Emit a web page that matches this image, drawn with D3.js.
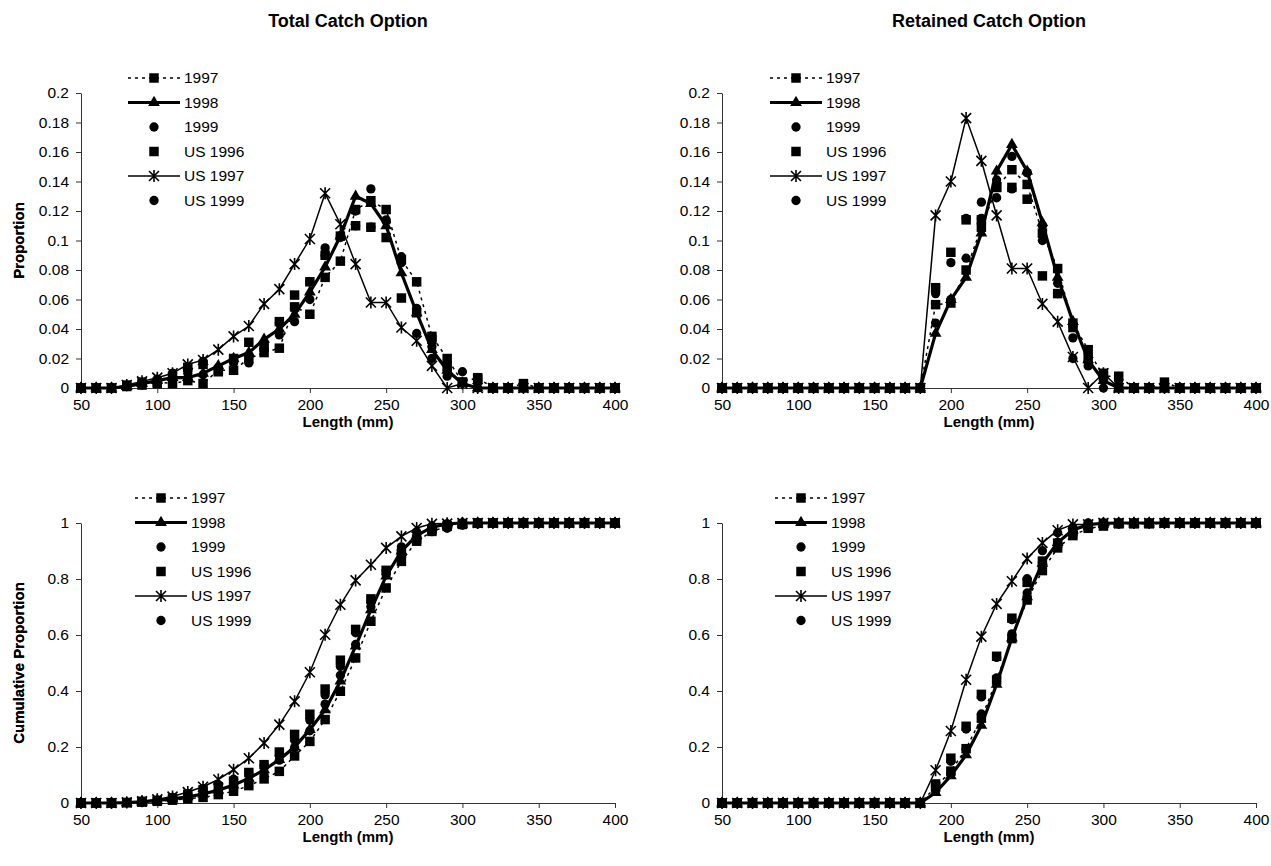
<!DOCTYPE html>
<html>
<head>
<meta charset="utf-8">
<script src="https://cdn.jsdelivr.net/npm/d3@7"></script>
<style>
  body { margin: 0; background: #fff; }
  svg { font-family: Arial, "Liberation Sans", sans-serif; }
</style>
</head>
<body>
<script>
// length classes (mm) and axis ticks
const lengths = [50,60,70,80,90,100,110,120,130,140,150,160,170,180,190,200,210,220,230,240,250,260,270,280,290,300,310,320,330,340,350,360,370,380,390,400];
const xTicks = [50,100,150,200,250,300,350,400];
const propTicks = [0,0.02,0.04,0.06,0.08,0.1,0.12,0.14,0.16,0.18,0.2];
const cumTicks = [0,0.2,0.4,0.6,0.8,1];
const seriesNames = ["1997","1998","1999","US 1996","US 1997","US 1999"];

// Total catch option - proportion at length
const tc1997   = [0,0,0,0.001,0.002,0.004,0.003,0.005,0.003,0.012,0.012,0.02,0.024,0.027,0.055,0.05,0.075,0.086,0.121,0.127,0.121,0.087,0.072,0.035,0.02,0.004,0.007,0,0,0.003,0,0,0,0,0,0];
const tc1998   = [0,0,0,0.001,0.003,0.005,0.007,0.007,0.01,0.015,0.02,0.024,0.033,0.04,0.05,0.065,0.082,0.103,0.13,0.125,0.11,0.078,0.051,0.026,0.012,0.003,0,0,0,0,0,0,0,0,0,0];
const tc1999   = [0,0,0,0.001,0.002,0.004,0.006,0.01,0.009,0.013,0.017,0.017,0.03,0.044,0.045,0.06,0.095,0.103,0.11,0.135,0.114,0.089,0.037,0.028,0.012,0.011,0.005,0,0,0,0,0,0,0,0,0];
const tcUS1996 = [0,0,0,0.002,0.004,0.003,0.008,0.014,0.016,0.011,0.02,0.031,0.028,0.045,0.063,0.072,0.09,0.103,0.11,0.109,0.102,0.061,0.051,0.033,0.015,0.004,0.006,0,0,0,0,0,0,0,0,0];
const tcUS1997 = [0,0,0,0.002,0.0045,0.007,0.01,0.016,0.019,0.026,0.035,0.042,0.057,0.067,0.084,0.101,0.132,0.111,0.084,0.058,0.058,0.041,0.032,0.015,0,0.003,0,0,0,0,0,0,0,0,0,0];
const tcUS1999 = [0,0,0,0.001,0.003,0.006,0.01,0.013,0.018,0.014,0.02,0.022,0.027,0.036,0.054,0.072,0.09,0.102,0.12,0.109,0.113,0.085,0.054,0.02,0.008,0.003,0,0,0,0,0,0,0,0,0,0];

// Total catch option - cumulative proportion
const tcCum1997   = [0,0,0,0.001,0.003,0.006,0.01,0.015,0.02,0.03,0.042,0.062,0.086,0.113,0.168,0.22,0.298,0.399,0.518,0.649,0.768,0.863,0.935,0.97,0.988,0.998,1,1,1,1,1,1,1,1,1,1];
const tcCum1998   = [0,0,0,0.001,0.004,0.009,0.015,0.022,0.032,0.046,0.064,0.088,0.118,0.155,0.2,0.262,0.333,0.435,0.56,0.69,0.81,0.9,0.955,0.985,0.997,1,1,1,1,1,1,1,1,1,1,1];
const tcCum1999   = [0,0,0,0.001,0.003,0.007,0.013,0.023,0.032,0.045,0.062,0.079,0.109,0.153,0.198,0.258,0.353,0.456,0.566,0.701,0.815,0.904,0.941,0.969,0.981,0.992,0.997,1,1,1,1,1,1,1,1,1];
const tcCumUS1996 = [0,0,0,0.002,0.006,0.009,0.017,0.031,0.047,0.058,0.078,0.109,0.137,0.182,0.245,0.317,0.407,0.51,0.62,0.729,0.831,0.892,0.943,0.976,0.991,0.995,1,1,1,1,1,1,1,1,1,1];
const tcCumUS1997 = [0,0,0,0.002,0.006,0.013,0.023,0.039,0.058,0.084,0.119,0.16,0.214,0.28,0.363,0.467,0.601,0.708,0.795,0.851,0.911,0.952,0.982,0.997,0.998,1,1,1,1,1,1,1,1,1,1,1];
const tcCumUS1999 = [0,0,0,0.001,0.004,0.01,0.02,0.033,0.051,0.065,0.085,0.107,0.134,0.17,0.224,0.296,0.386,0.488,0.608,0.717,0.83,0.915,0.969,0.989,0.997,1,1,1,1,1,1,1,1,1,1,1];

// Retained catch option - proportion at length
const rc1997   = [0,0,0,0,0,0,0,0,0,0,0,0,0,0,0.0565,0.0576,0.08,0.109,0.136,0.148,0.138,0.105,0.081,0.044,0.026,0.008,0.008,0,0,0.004,0,0,0,0,0,0];
const rc1998   = [0,0,0,0,0,0,0,0,0,0,0,0,0,0,0.037,0.06,0.075,0.105,0.147,0.165,0.147,0.112,0.075,0.045,0.019,0.005,0,0,0,0,0,0,0,0,0,0];
const rc1999   = [0,0,0,0,0,0,0,0,0,0,0,0,0,0,0.044,0.06,0.088,0.126,0.129,0.157,0.146,0.11,0.071,0.034,0.018,0.009,0.005,0,0,0,0,0,0,0,0,0];
const rcUS1996 = [0,0,0,0,0,0,0,0,0,0,0,0,0,0,0.068,0.092,0.114,0.114,0.136,0.136,0.128,0.076,0.064,0.041,0.02,0.01,0,0,0,0,0,0,0,0,0,0];
const rcUS1997 = [0,0,0,0,0,0,0,0,0,0,0,0,0,0,0.117,0.14,0.183,0.154,0.117,0.081,0.081,0.057,0.045,0.021,0,0.01,0,0,0,0,0,0,0,0,0,0];
const rcUS1999 = [0,0,0,0,0,0,0,0,0,0,0,0,0,0,0.064,0.085,0.115,0.115,0.141,0.135,0.146,0.1,0.064,0.02,0.015,0,0,0,0,0,0,0,0,0,0,0];

// Retained catch option - cumulative proportion
const rcCum1997   = [0,0,0,0,0,0,0,0,0,0,0,0,0,0,0.057,0.114,0.194,0.303,0.439,0.587,0.725,0.83,0.911,0.955,0.981,0.989,0.997,0.997,0.997,1,1,1,1,1,1,1];
const rcCum1998   = [0,0,0,0,0,0,0,0,0,0,0,0,0,0,0.037,0.097,0.172,0.277,0.424,0.589,0.736,0.856,0.93,0.975,0.994,0.999,1,1,1,1,1,1,1,1,1,1];
const rcCum1999   = [0,0,0,0,0,0,0,0,0,0,0,0,0,0,0.044,0.104,0.192,0.318,0.447,0.604,0.75,0.86,0.931,0.965,0.983,0.992,0.997,1,1,1,1,1,1,1,1,1];
const rcCumUS1996 = [0,0,0,0,0,0,0,0,0,0,0,0,0,0,0.068,0.16,0.274,0.388,0.524,0.66,0.788,0.864,0.928,0.969,0.989,0.999,1,1,1,1,1,1,1,1,1,1];
const rcCumUS1997 = [0,0,0,0,0,0,0,0,0,0,0,0,0,0,0.117,0.257,0.44,0.594,0.711,0.792,0.873,0.929,0.974,0.995,0.995,1,1,1,1,1,1,1,1,1,1,1];
const rcCumUS1999 = [0,0,0,0,0,0,0,0,0,0,0,0,0,0,0.064,0.149,0.264,0.379,0.52,0.655,0.801,0.901,0.965,0.985,1,1,1,1,1,1,1,1,1,1,1,1];

// how each series is drawn (line + marker), Excel-like
const seriesStyle = {
  "1997":    { line: true, width: 1.5, dash: "3,4", marker: "square" },
  "1998":    { line: true, width: 3.2, dash: null,  marker: "triangle" },
  "1999":    { line: false, marker: "circle" },
  "US 1996": { line: false, marker: "square" },
  "US 1997": { line: true, width: 1.5, dash: null,  marker: "star" },
  "US 1999": { line: false, marker: "circle" }
};

const panels = [
  { title: "Total Catch Option", left: 81, right: 615, top: 93, bottom: 388,
    ticks: propTicks, yLabel: "Proportion", legX: 128, legY: 78,
    data: [tc1997, tc1998, tc1999, tcUS1996, tcUS1997, tcUS1999] },
  { title: "Retained Catch Option", left: 722, right: 1256, top: 93, bottom: 388,
    ticks: propTicks, yLabel: "Proportion", legX: 770, legY: 78,
    data: [rc1997, rc1998, rc1999, rcUS1996, rcUS1997, rcUS1999] },
  { left: 81, right: 615, top: 523, bottom: 803,
    ticks: cumTicks, yLabel: "Cumulative Proportion", legX: 135, legY: 498,
    data: [tcCum1997, tcCum1998, tcCum1999, tcCumUS1996, tcCumUS1997, tcCumUS1999] },
  { left: 722, right: 1256, top: 523, bottom: 803,
    ticks: cumTicks, yLabel: "Cumulative Proportion", legX: 775, legY: 498,
    data: [rcCum1997, rcCum1998, rcCum1999, rcCumUS1996, rcCumUS1997, rcCumUS1999] }
];

const width = 1271, height = 866;
const svg = d3.select("body").append("svg")
  .attr("width", width)
  .attr("height", height);

const fmt = v => String(+v.toFixed(2));

function drawMarker(g, type, x, y) {
  if (type === "star") {
    g.append("path")
      .attr("d", "M-5,-5L5,5M-5,5L5,-5M0,-6L0,6")
      .attr("transform", `translate(${x},${y})`)
      .attr("stroke", "#000").attr("stroke-width", 1.6).attr("fill", "none");
    return;
  }
  const sym = { square: d3.symbolSquare, triangle: d3.symbolTriangle, circle: d3.symbolCircle }[type];
  const size = { square: 90, triangle: 60, circle: 68 }[type];
  g.append("path")
    .attr("d", d3.symbol().type(sym).size(size)())
    .attr("transform", `translate(${x},${y})`)
    .attr("fill", "#000");
}

function drawPanel(p) {
  const g = svg.append("g");
  const x = d3.scaleLinear().domain([50, 400]).range([p.left, p.right]);
  const y = d3.scaleLinear().domain([0, d3.max(p.ticks)]).range([p.bottom, p.top]);

  if (p.title) {
    svg.append("text")
      .attr("x", (p.left + p.right) / 2).attr("y", 27)
      .attr("text-anchor", "middle")
      .attr("font-size", 18).attr("font-weight", "bold")
      .text(p.title);
  }

  // axes
  const yAxis = g.append("g")
    .attr("transform", `translate(${p.left},0)`)
    .call(d3.axisLeft(y).tickValues(p.ticks).tickFormat(fmt).tickSize(5).tickSizeOuter(0).tickPadding(7));
  const xAxis = g.append("g")
    .attr("transform", `translate(0,${p.bottom})`)
    .call(d3.axisBottom(x).tickValues(xTicks).tickSize(5).tickSizeOuter(0).tickPadding(6));
  [xAxis, yAxis].forEach(a => {
    a.select(".domain").attr("stroke", "#333");
    a.selectAll(".tick line").attr("stroke", "#333");
    a.selectAll("text").attr("font-size", 15.5).attr("fill", "#000")
      .attr("font-family", "Arial, 'Liberation Sans', sans-serif");
  });

  // axis titles
  g.append("text")
    .attr("x", (p.left + p.right) / 2).attr("y", p.bottom + 39)
    .attr("text-anchor", "middle")
    .attr("font-size", 15).attr("font-weight", "bold")
    .text("Length (mm)");
  g.append("text")
    .attr("transform", `translate(24,${(p.top + p.bottom) / 2}) rotate(-90)`)
    .attr("text-anchor", "middle")
    .attr("font-size", 15).attr("font-weight", "bold")
    .text(p.yLabel);

  // series
  seriesNames.forEach((name, i) => {
    const st = seriesStyle[name];
    const vals = p.data[i];
    const sg = g.append("g");
    if (st.line) {
      sg.append("path")
        .datum(vals)
        .attr("d", d3.line().x((d, j) => x(lengths[j])).y(d => y(d)))
        .attr("fill", "none")
        .attr("stroke", "#000")
        .attr("stroke-width", st.width)
        .attr("stroke-dasharray", st.dash);
    }
    vals.forEach((v, j) => drawMarker(sg, st.marker, x(lengths[j]), y(v)));
  });

  // legend
  const leg = g.append("g");
  seriesNames.forEach((name, i) => {
    const st = seriesStyle[name];
    const ly = p.legY + i * 24.5;
    if (st.line) {
      leg.append("line")
        .attr("x1", p.legX).attr("x2", p.legX + 52)
        .attr("y1", ly).attr("y2", ly)
        .attr("stroke", "#000")
        .attr("stroke-width", st.width)
        .attr("stroke-dasharray", st.dash);
    }
    drawMarker(leg, st.marker, p.legX + 26, ly);
    leg.append("text")
      .attr("x", p.legX + 56).attr("y", ly)
      .attr("dy", "0.35em")
      .attr("font-size", 15.5)
      .text(name);
  });
}

panels.forEach(drawPanel);
</script>
</body>
</html>
